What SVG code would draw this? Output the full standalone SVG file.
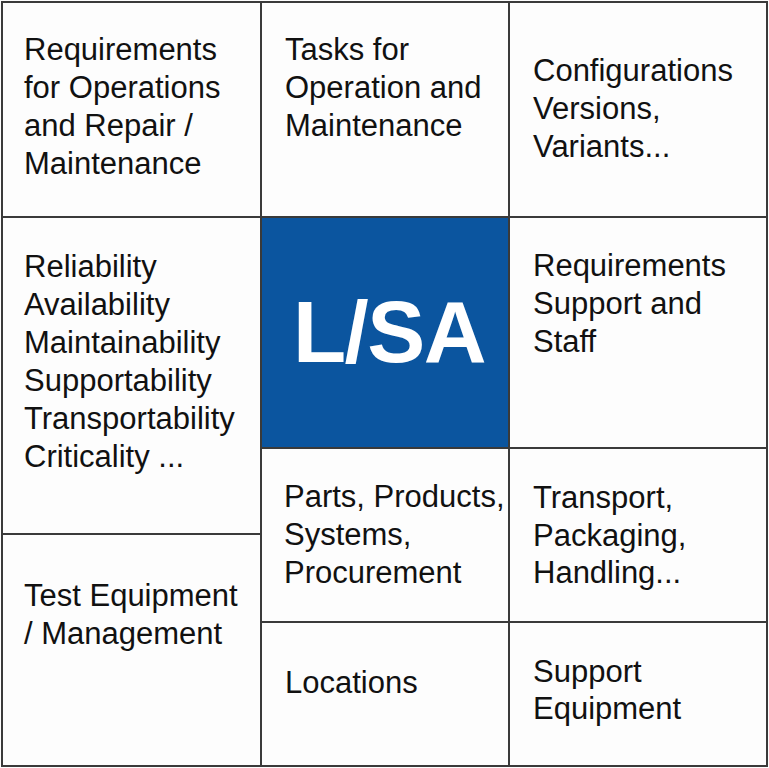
<svg xmlns="http://www.w3.org/2000/svg" width="769" height="768" viewBox="0 0 769 768">
<style>
.cell{fill:#fdfdfd;stroke:#3a3a3a;stroke-width:2}
.t{font-family:"Liberation Sans","Noto Sans",Arial,sans-serif;font-size:31px;fill:#111}
.big{font-family:"Liberation Sans",Arial,sans-serif;font-size:87px;font-weight:bold;fill:#fff}
</style>
<rect x="0" y="0" width="769" height="768" fill="#fdfdfd"/>
<g id="n1"><rect class="cell" x="2" y="2" width="259" height="215"/>
<text class="t" x="24"><tspan x="24" y="60">Requirements</tspan><tspan x="24" y="98">for Operations</tspan><tspan x="24" y="136">and Repair /</tspan><tspan x="24" y="174">Maintenance</tspan></text></g>
<g id="n2"><rect class="cell" x="261" y="2" width="248" height="215"/>
<text class="t"><tspan x="285" y="60">Tasks for</tspan><tspan x="285" y="98">Operation and</tspan><tspan x="285" y="136">Maintenance</tspan></text></g>
<g id="n3"><rect class="cell" x="509" y="2" width="258" height="215"/>
<text class="t"><tspan x="533" y="81">Configurations</tspan><tspan x="533" y="119">Versions,</tspan><tspan x="533" y="157">Variants...</tspan></text></g>
<g id="n4"><rect class="cell" x="2" y="217" width="259" height="317"/>
<text class="t"><tspan x="24" y="277">Reliability</tspan><tspan x="24" y="315">Availability</tspan><tspan x="24" y="353">Maintainability</tspan><tspan x="24" y="391">Supportability</tspan><tspan x="24" y="429">Transportability</tspan><tspan x="24" y="467">Criticality ...</tspan></text></g>
<g id="center"><rect x="261" y="217" width="248" height="231" fill="#0b559f" stroke="#3a3a3a" stroke-width="2"/>
<text class="big" x="389" y="362" text-anchor="middle" letter-spacing="-1.5">L/SA</text></g>
<g id="n5"><rect class="cell" x="509" y="217" width="258" height="231"/>
<text class="t"><tspan x="533" y="276">Requirements</tspan><tspan x="533" y="314">Support and</tspan><tspan x="533" y="352">Staff</tspan></text></g>
<g id="n6"><rect class="cell" x="261" y="448" width="248" height="174"/>
<text class="t"><tspan x="284" y="507">Parts, Products,</tspan><tspan x="284" y="545">Systems,</tspan><tspan x="284" y="583">Procurement</tspan></text></g>
<g id="n7"><rect class="cell" x="509" y="448" width="258" height="174"/>
<text class="t"><tspan x="533" y="508">Transport,</tspan><tspan x="533" y="546">Packaging,</tspan><tspan x="533" y="583">Handling...</tspan></text></g>
<g id="n8"><rect class="cell" x="2" y="534" width="259" height="232"/>
<text class="t"><tspan x="24" y="606">Test Equipment</tspan><tspan x="24" y="644">/ Management</tspan></text></g>
<g id="n9"><rect class="cell" x="261" y="622" width="248" height="144"/>
<text class="t" x="285" y="693">Locations</text></g>
<g id="n10"><rect class="cell" x="509" y="622" width="258" height="144"/>
<text class="t"><tspan x="533" y="682">Support</tspan><tspan x="533" y="719">Equipment</tspan></text></g>
<g id="connectors"></g>
</svg>
